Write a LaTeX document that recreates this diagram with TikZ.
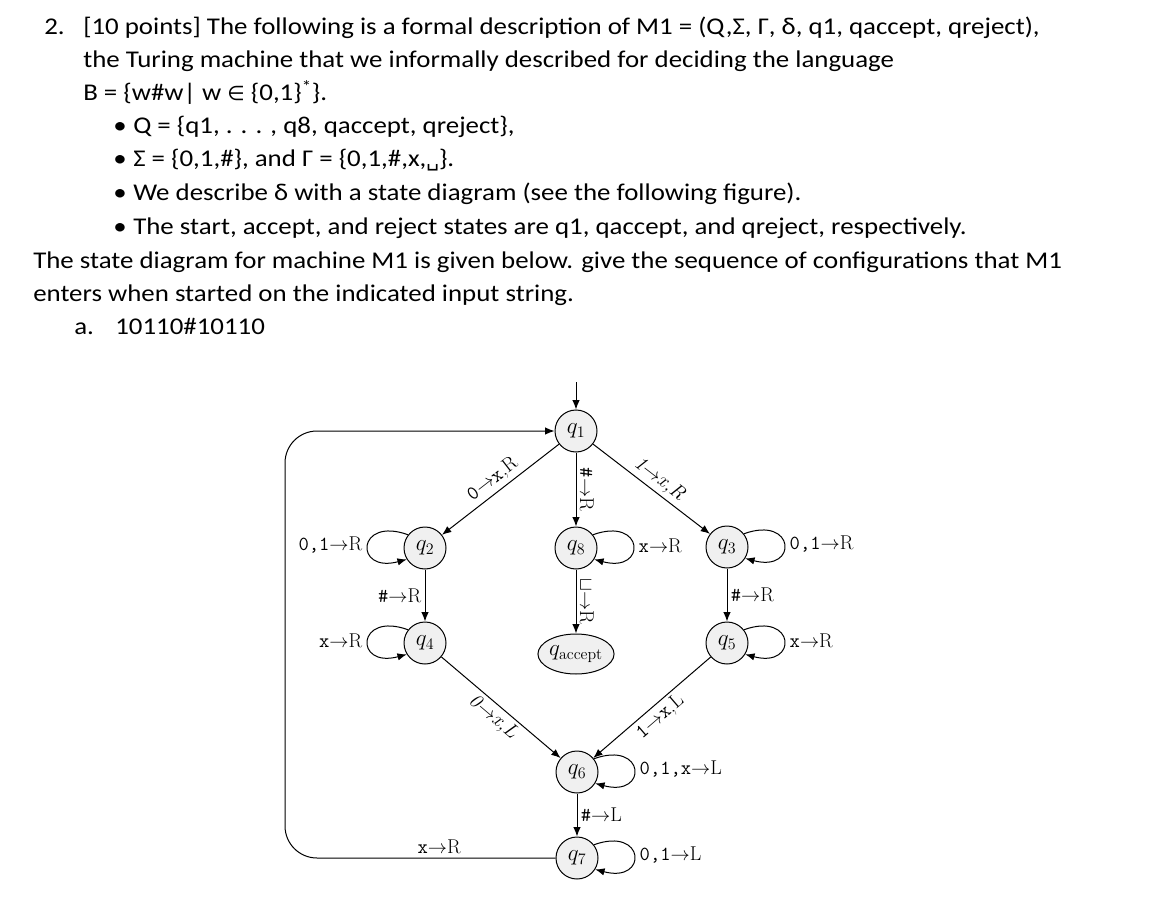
\documentclass[tikz,border=0pt]{standalone}
\usepackage{fontspec}
\usepackage{tikz}
\usetikzlibrary{arrows.meta,shapes.geometric,positioning}
\newfontfamily\bodyfont[FakeStretch=1.12]{Carlito}
\newfontfamily\symfont{DejaVu Sans}
\newcommand{\mto}{\ensuremath{\rightarrow}}
\newcommand{\tsym}[1]{\texttt{#1}}

\begin{document}
\begin{tikzpicture}[x=0.75pt, y=0.75pt,
  txt/.style={font=\bodyfont\fontsize{18}{22}\selectfont, anchor=base west, inner sep=0pt},
  state/.style={circle, draw, line width=0.75pt, fill=gray!12, minimum size=31.5pt, inner sep=0pt, font=\fontsize{18}{20}\selectfont},
  accstate/.style={ellipse, draw, line width=0.75pt, fill=gray!12, minimum width=55.5pt, minimum height=30pt, inner sep=0pt, font=\fontsize{17}{19}\selectfont},
  lbl/.style={font=\fontsize{15}{17}\selectfont, inner sep=2.5pt},
  looplbl/.style={lbl, inner sep=4pt},
  arr/.style={-{Latex[length=7pt,width=5.5pt]}, line width=0.75pt},
]
  \useasboundingbox (0,0) rectangle (1156,-909);

  % Problem text
  \node[txt] (num) at (44,-35) {2.};
  \node[txt] (l1) at (83,-35) {[10 points] The following is a formal description of M1 = (Q,Σ, Γ, δ, q1, qaccept, qreject),};
  \node[txt] (l2) at (83,-68) {the Turing machine that we informally described for deciding the language};
  \node[txt] (l3) at (83,-101) {B = \{w\#w\textbar{} w {\symfont\fontsize{15}{18}\selectfont ∈} \{0,1\}\textsuperscript{*}\}.};

  % Bullets
  \foreach \y/\nm in {134/b1, 167/b2, 201/b3, 235/b4}{
    \node[txt] (\nm) at (113,-\y) {•};
  }
  \node[txt] (l4) at (133,-134) {Q = \{q1, . . . , q8, qaccept, qreject\},};
  \node[txt] (l5) at (133,-167) {Σ = \{0,1,\#\}, and Γ = \{0,1,\#,x,{\symfont\fontsize{15}{18}\selectfont ␣}\}.};
  \node[txt] (l6) at (133,-201) {We describe δ with a state diagram (see the following figure).};
  \node[txt] (l7) at (133,-235) {The start, accept, and reject states are q1, qaccept, and qreject, respectively.};
  \node[txt] (l8) at (33,-268) {The state diagram for machine M1 is given below. give the sequence of configurations that M1};
  \node[txt] (l9) at (33,-301) {enters when started on the indicated input string.};
  \node[txt] (suba) at (74,-334) {a.};
  \node[txt] (l10) at (115,-334) {10110\#10110};

  % States
  \node[state] (q1) at (576,-431) {$q_1$};
  \node[state] (q2) at (425,-548) {$q_2$};
  \node[state] (q8) at (576,-548) {$q_8$};
  \node[state] (q3) at (727,-547) {$q_3$};
  \node[state] (q4) at (425,-643) {$q_4$};
  \node[accstate] (qa) at (576,-654) {$q_{\mathrm{accept}}$};
  \node[state] (q5) at (727,-643) {$q_5$};
  \node[state] (q6) at (577,-772) {$q_6$};
  \node[state] (q7) at (577,-858) {$q_7$};

  \coordinate (init) at (576,-382);
  \coordinate (bl) at (285,-858);
  \coordinate (tl) at (285,-431);

  % Transitions
  \draw[arr] (init) -- (q1);
  \draw[arr] (q1) -- node[lbl, sloped, above] {\tsym{0}\mto\tsym{x},R} (q2);
  \draw[arr] (q1) -- node[lbl, sloped, above] {\tsym{\#}\mto R} (q8);
  \draw[arr] (q1) -- node[lbl, sloped, above] {\textit{1}\mto\textit{x,R}} (q3);
  \draw[arr] (q2) -- node[lbl, left] {\tsym{\#}\mto R} (q4);
  \draw[arr] (q8) -- node[lbl, sloped, above] {$\sqcup$\mto R} (qa);
  \draw[arr] (q3) -- node[lbl, right] {\tsym{\#}\mto R} (q5);
  \draw[arr] (q4) -- node[lbl, sloped, below] {\textit{0}\mto\textit{x,L}} (q6);
  \draw[arr] (q5) -- node[lbl, sloped, below] {\tsym{1}\mto\tsym{x},L} (q6);
  \draw[arr] (q6) -- node[lbl, right] {\tsym{\#}\mto L} (q7);
  \draw[arr, rounded corners=24pt] (q7) -- node[lbl, above, pos=0.43] {\tsym{x}\mto R} (bl) -- (tl) -- (q1);

  % Self loops
  \draw[arr] (q2.142) .. controls +(160:55) and +(195:55) .. node[looplbl, left] {\tsym{0,1}\mto R} (q2.212);
  \draw[arr] (q4.142) .. controls +(160:55) and +(195:55) .. node[looplbl, left] {\tsym{x}\mto R} (q4.212);
  \draw[arr] (q8.38) .. controls +(20:55) and +(-15:55) .. node[looplbl, right] {\tsym{x}\mto R} (q8.-32);
  \draw[arr] (q3.38) .. controls +(20:55) and +(-15:55) .. node[looplbl, right] {\tsym{0,1}\mto R} (q3.-32);
  \draw[arr] (q5.38) .. controls +(20:55) and +(-15:55) .. node[looplbl, right] {\tsym{x}\mto R} (q5.-32);
  \draw[arr] (q6.38) .. controls +(20:55) and +(-15:55) .. node[looplbl, right] {\tsym{0,1,x}\mto L} (q6.-32);
  \draw[arr] (q7.38) .. controls +(20:55) and +(-15:55) .. node[looplbl, right] {\tsym{0,1}\mto L} (q7.-32);
\end{tikzpicture}
\end{document}
